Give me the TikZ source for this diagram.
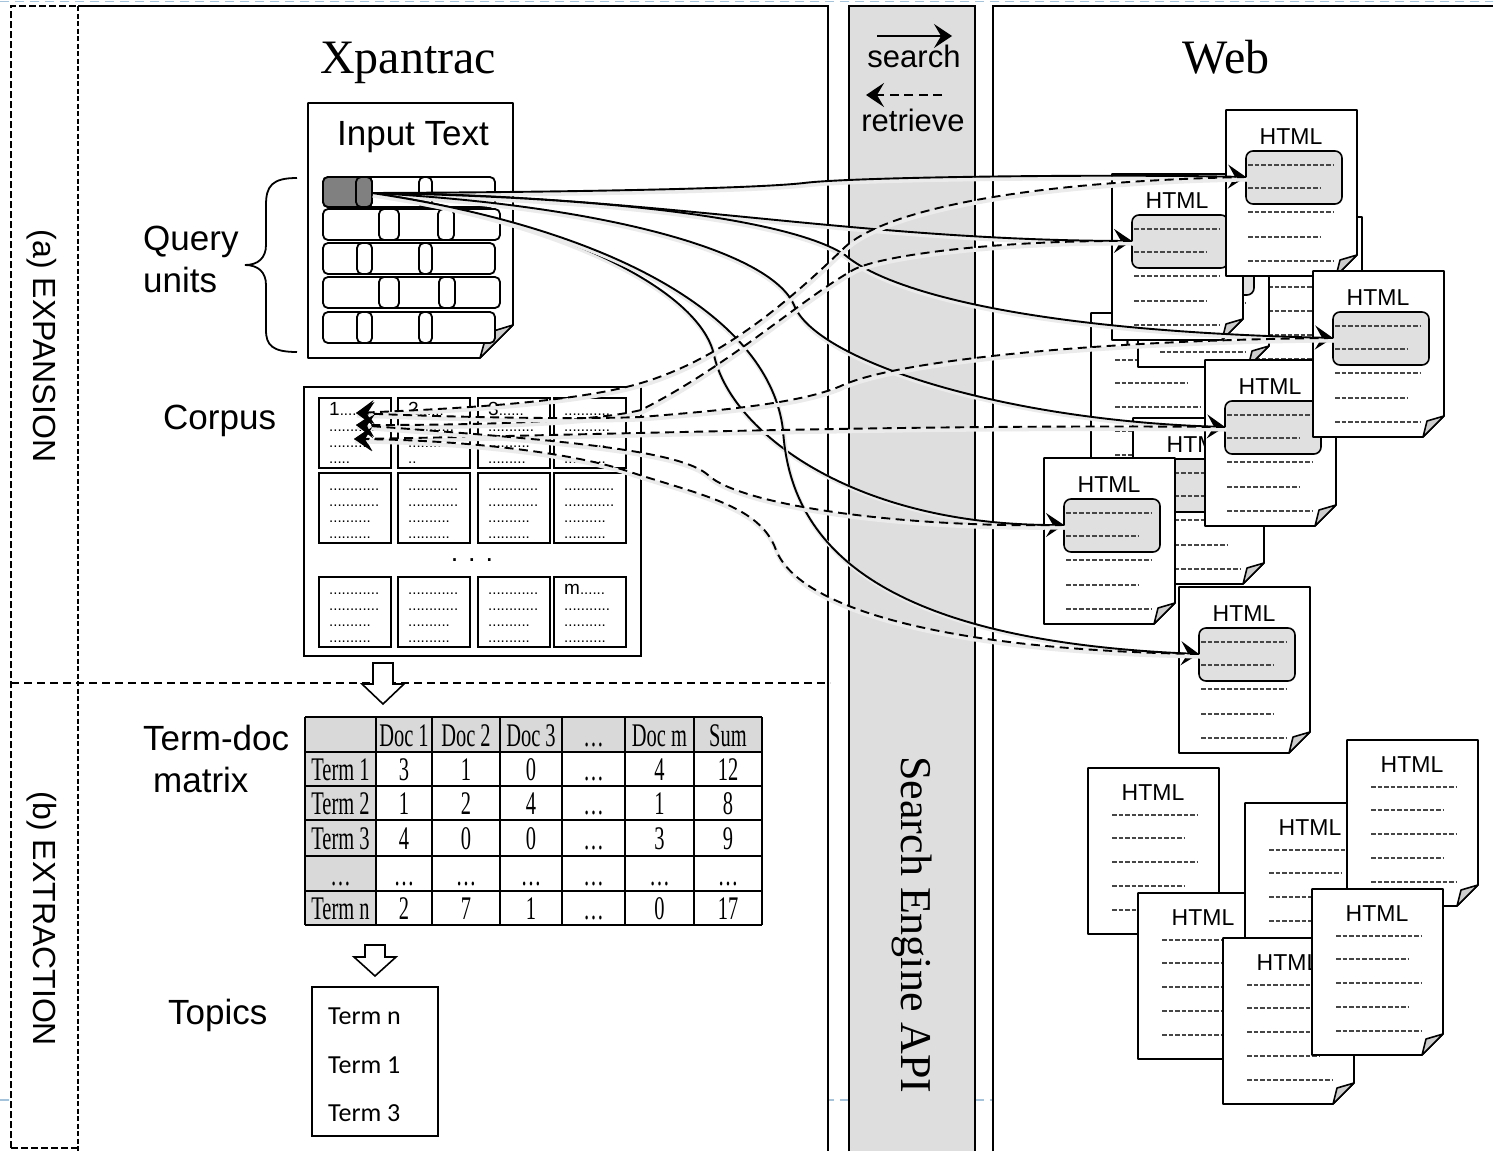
\documentclass[tikz,border=0pt]{standalone}
\usepackage{fontspec}
\usepackage{graphicx}
\setmainfont{Liberation Serif}
\setsansfont{Liberation Sans}
\newfontfamily\calfont{Carlito}
\usetikzlibrary{arrows.meta}

\definecolor{slideblue}{RGB}{165,195,218}
\definecolor{boxgrey}{RGB}{224,224,224}
\definecolor{bandgrey}{RGB}{222,222,222}
\definecolor{cellgrey}{RGB}{217,217,217}
\definecolor{unitgrey}{RGB}{128,128,128}
\definecolor{foldgrey}{RGB}{205,205,205}
\definecolor{dashgrey}{RGB}{70,70,70}

% horizontally condensed serif for the term-doc table
\newcommand\cellfmt[1]{\scalebox{0.62}[1]{#1}}

% page outline with a folded lower-right corner (131 x 166)
\newcommand\pageoutline{%
  \draw[docline, fill=white] (0,0) -- (131,0) -- (131,145) -- (110,166) -- (0,166) -- cycle;
  \draw[docline, fill=foldgrey] (131,145) -- (114,150) -- (110,166) -- cycle;
}

% one corpus document cell with four text lines
\newcommand\corpuscell[7]{%
  \draw[cellbox] (#2,#3) rectangle ++(72,70);
  \node[dottxt] (#1-a) at (#2+10,#3+17) {#4};
  \node[dottxt] (#1-b) at (#2+10,#3+33) {#5};
  \node[dottxt] (#1-c) at (#2+10,#3+49) {#6};
  \node[dottxt] (#1-d) at (#2+10,#3+65) {#7};
}

% one row of the term-doc matrix
\newcommand\tabrow[9]{%
  \node[tabtxt] (#1-1) at (340.5,#2) {\cellfmt{#3}};
  \node[tabtxt] (#1-2) at (404,#2) {\cellfmt{#4}};
  \node[tabtxt] (#1-3) at (466,#2) {\cellfmt{#5}};
  \node[tabtxt] (#1-4) at (531,#2) {\cellfmt{#6}};
  \node[tabtxt] (#1-5) at (593.5,#2) {\cellfmt{#7}};
  \node[tabtxt] (#1-6) at (659.5,#2) {\cellfmt{#8}};
  \node[tabtxt] (#1-7) at (728,#2) {\cellfmt{#9}};
}

\tikzset{
  panelline/.style={line width=1.8pt},
  slideguide/.style={line width=1.2pt, slideblue, dash pattern=on 9pt off 6pt},
  docline/.style={line width=1.6pt, line join=round},
  cellbox/.style={line width=2pt},
  unitline/.style={line width=1.8pt, rounded corners=5pt},
  txtdash/.style={line width=1.1pt, dashgrey, dash pattern=on 4.5pt off 2pt},
  tablegrid/.style={line width=2.2pt},
  barb/.style={-{Stealth[length=18pt,width=24pt,inset=7pt]}},
  softshadow/.style={preaction={draw=black!8, line width=4pt, -,
      transform canvas={shift={(1pt,-2.5pt)}}}},
  searchline/.style={line width=1.9pt, barb},
  retrieveline/.style={line width=1.9pt, dash pattern=on 9pt off 5.5pt, barb},
  blockarrow/.style={line width=1.6pt, fill=white, line join=miter},
  bigserif/.style={font=\fontsize{48}{48}\selectfont, inner sep=0pt, anchor=base},
  sanslabel/.style={font=\sffamily\fontsize{35}{40}\selectfont, inner sep=0pt, anchor=base west},
  htmltxt/.style={font=\sffamily\fontsize{23}{23}\selectfont, inner sep=0pt},
  dottxt/.style={font=\sffamily\fontsize{15}{15}\selectfont, inner sep=0pt, anchor=base west},
  tabtxt/.style={font=\fontsize{33}{33}\selectfont, inner sep=0pt, anchor=base},
  topictxt/.style={font=\calfont\fontsize{26}{26}\selectfont, inner sep=0pt, anchor=base west},
  sidelabel/.style={font=\sffamily\fontsize{32}{32}\selectfont, rotate=-90, inner sep=0pt},
  pics/boxpage/.style={code={
    \pageoutline
    \node[htmltxt] (-title) at (65,27) {HTML};
    \draw[docline, fill=boxgrey, rounded corners=7pt] (20,41) rectangle (116,94);
    \coordinate (-in) at (20,67);
    \foreach \yy/\len in {55/86,78/73,102/86,127/73,151/86}
      \draw[txtdash] (22,\yy) -- ++(\len,0);
  }},
  pics/plainpage/.style={code={
    \pageoutline
    \node[htmltxt] (-title) at (65,25) {HTML};
    \foreach \yy/\len in {47/85,70/73,94/85,118/73,142/85}
      \draw[txtdash] (24,\yy) -- ++(\len,0);
  }},
}

\begin{document}
\begin{tikzpicture}[x=1pt, y=-1pt]
\useasboundingbox (0,0) rectangle (1493,1151);

% slide guide lines
\draw[slideguide] (0,1.5) -- (1493,1.5);
\draw[slideguide] (0,1100) -- (1493,1100);

% panels
\fill[white] (11,6) rectangle (78,1151);
\fill[white] (78,6) rectangle (828,1151);
\fill[white] (993,6) rectangle (1493,1151);
\draw[panelline, dash pattern=on 7pt off 3pt] (11,1148) -- (11,6) -- (78,6);
\draw[panelline, dash pattern=on 5pt off 2.5pt] (78,6) -- (78,1151);
\draw[panelline, dash pattern=on 7pt off 3pt] (11,1148) -- (78,1148);
\draw[panelline, dash pattern=on 8pt off 5pt] (11,683) -- (830,683);
\draw[panelline] (78,6) -- (828,6) -- (828,1151);
\draw[panelline, fill=bandgrey] (849,1151) -- (849,6) -- (975,6) -- (975,1151);
\draw[panelline] (993,1151) -- (993,6) -- (1493,6);

% section labels
\node[sidelabel] (expansion) at (42,346) {(a) EXPANSION};
\node[sidelabel] (extraction) at (42,919) {(b) EXTRACTION};

% titles
\node[bigserif] (xpantrac) at (408,73) {Xpantrac};
\node[bigserif] (web) at (1226,73) {Web};
\node[font=\fontsize{44}{44}\selectfont, rotate=-90, inner sep=0pt] (api) at (912,925) {Search Engine API};

% legend in the search band
\coordinate (sa1) at (877,36);
\coordinate (sa2) at (952,36);
\draw[searchline] (sa1) -- (sa2);
\node[font=\sffamily\fontsize{31}{31}\selectfont, inner sep=0pt, anchor=base] (searchlbl) at (914,67) {search};
\coordinate (ra1) at (942,95);
\coordinate (ra2) at (866,95);
\draw[retrieveline] (ra1) -- (ra2);
\node[font=\sffamily\fontsize{31}{31}\selectfont, inner sep=0pt, anchor=base] (retrievelbl) at (913,131) {retrieve};

% input text document
\draw[docline, fill=white] (308,103) -- (513,103) -- (513,325) -- (480,358) -- (308,358) -- cycle;
\draw[docline, fill=foldgrey] (513,325) -- (487,333) -- (480,358) -- cycle;
\node[sanslabel, anchor=base] (inputtext) at (413,145) {Input Text};
\foreach \ya/\yb/\xe/\pa/\pb/\qa/\qb in {177/207/495/356/372/419/432, 209/240/500/379/399/438/454, 243/274/495/357/372/419/432, 277/308/500/379/399/439/455, 312/343/495/357/372/419/432} {
  \draw[unitline, fill=white] (323,\ya) rectangle (\xe,\yb);
  \draw[unitline, fill=white] (\pa,\ya) rectangle (\pb,\yb);
  \draw[unitline, fill=white] (\qa,\ya) rectangle (\qb,\yb);
}
\draw[unitline, fill=unitgrey] (323,177) rectangle (372,207);
\draw[unitline, fill=unitgrey] (356,177) rectangle (372,207);
\coordinate (src) at (372,193);

% brace and query-unit label
\draw[line width=1.8pt] (297,178) .. controls (272,178) and (266,186) .. (266,205) -- (266,245)
  .. controls (266,258) and (258,265) .. (245,265) .. controls (258,265) and (266,272) .. (266,285)
  -- (266,330) .. controls (266,345) and (272,352) .. (297,352);
\node[sanslabel] (query) at (143,250) {Query};
\node[sanslabel] (units) at (143,292) {units};

% corpus
\node[sanslabel] (corpuslbl) at (163,429) {Corpus};
\draw[cellbox, line width=1.8pt] (304,387) rectangle (641,656);
\corpuscell{c11}{319}{398}{{\fontsize{19}{19}\selectfont 1}.....}{...........}{..........}{.....}
\corpuscell{c12}{398}{398}{{\fontsize{19}{19}\selectfont 2}......}{...........}{..........}{..}
\corpuscell{c13}{478}{398}{{\fontsize{19}{19}\selectfont 3}......}{...........}{..........}{.........}
\corpuscell{c14}{554}{398}{...........}{...........}{..........}{..........}
\corpuscell{c21}{319}{473}{............}{............}{..........}{..........}
\corpuscell{c22}{398}{473}{............}{............}{..........}{..........}
\corpuscell{c23}{478}{473}{............}{............}{..........}{..........}
\corpuscell{c24}{554}{473}{............}{............}{..........}{..........}
\node[font=\sffamily\fontsize{27}{27}\selectfont, inner sep=0pt] (cdots) at (472,560) {. . .};
\corpuscell{c31}{319}{577}{............}{............}{..........}{..........}
\corpuscell{c32}{398}{577}{............}{............}{..........}{..........}
\corpuscell{c33}{478}{577}{............}{............}{..........}{..........}
\corpuscell{c34}{554}{577}{{\fontsize{19}{19}\selectfont m}......}{...........}{..........}{..........}
\coordinate (t1) at (356,413);
\coordinate (t2) at (356,425);
\coordinate (t3) at (354,439);

% down arrow to the matrix
\draw[blockarrow] (373,663) -- (393,663) -- (393,684) -- (404,684) -- (383,704) -- (362,684) -- (373,684) -- cycle;

% term-doc matrix
\node[sanslabel] (termdoc) at (143,750) {Term-doc};
\node[sanslabel] (matrixlbl) at (153,792) {matrix};
\fill[cellgrey] (305,717) rectangle (762,752);
\fill[cellgrey] (305,752) rectangle (376,925);
\foreach \x in {305,376,432,500,562,625,694,762} \draw[tablegrid] (\x,717) -- (\x,925);
\foreach \y in {717,752,786,820,856,891,925} \draw[tablegrid] (305,\y) -- (762,\y);
\tabrow{rh}{746}{}{Doc 1}{Doc 2}{Doc 3}{\ldots}{Doc m}{Sum}
\tabrow{r1}{780.5}{Term 1}{3}{1}{0}{\ldots}{4}{12}
\tabrow{r2}{814.5}{Term 2}{1}{2}{4}{\ldots}{1}{8}
\tabrow{r3}{849.5}{Term 3}{4}{0}{0}{\ldots}{3}{9}
\tabrow{r4}{885}{\ldots}{\ldots}{\ldots}{\ldots}{\ldots}{\ldots}{\ldots}
\tabrow{rn}{919.5}{Term n}{2}{7}{1}{\ldots}{0}{17}

% down arrow to the topics
\draw[blockarrow] (365,945) -- (385,945) -- (385,957) -- (396,957) -- (375,976) -- (354,957) -- (365,957) -- cycle;

% topics
\node[sanslabel] (topicslbl) at (168,1024) {Topics};
\draw[line width=1.8pt, fill=white] (312,987) rectangle (438,1136);
\node[topictxt] (tp1) at (328,1024) {Term n};
\node[topictxt] (tp2) at (328,1073) {Term 1};
\node[topictxt] (tp3) at (328,1121) {Term 3};

% web pages, back to front
\pic (Q) at (1231,217) {plainpage};
\pic (I) at (1091,313) {plainpage};
\pic (J) at (1138,201) {boxpage};
\pic (B) at (1112,174) {boxpage};
\pic (A) at (1226,110) {boxpage};
\pic (H) at (1133,418) {boxpage};
\pic (D) at (1205,360) {boxpage};
\pic (C) at (1313,271) {boxpage};
\pic (E) at (1044,458) {boxpage};
\pic (F) at (1179,587) {boxpage};

\pic (K) at (1088,768) {plainpage};
\pic (N) at (1138,893) {plainpage};
\pic (M) at (1245,803) {plainpage};
\pic (L) at (1347,740) {plainpage};
\pic (O) at (1223,938) {plainpage};
\pic (P) at (1312,889) {plainpage};

% search: query unit -> result snippets
\draw[searchline, softshadow] (src) .. controls (600,192) and (760,188) .. (804,183)
  .. controls (850,177) and (1100,174) .. (A-in);
\draw[searchline, softshadow] (src) .. controls (650,195) and (850,240) .. (B-in);
\draw[searchline, softshadow] (src) .. controls (650,198) and (800,225) .. (845,255)
  .. controls (880,285) and (1000,330) .. (C-in);
\draw[searchline, softshadow] (src) .. controls (600,205) and (770,250) .. (794,305)
  .. controls (815,360) and (1000,420) .. (D-in);
\draw[searchline, softshadow] (src) .. controls (560,220) and (700,290) .. (714,355)
  .. controls (730,430) and (850,525) .. (E-in);
\draw[searchline, softshadow] (src) .. controls (620,230) and (770,320) .. (783,430)
  .. controls (790,540) and (870,640) .. (F-in);

% retrieve: snippets -> corpus document
\draw[retrieveline, softshadow] (A-in) .. controls (1000,182) and (880,215) .. (845,247)
  .. controls (790,300) and (720,362) .. (634,385) .. controls (560,405) and (420,410) .. (t1);
\draw[retrieveline, softshadow] (B-in) .. controls (1000,240) and (880,255) .. (853,270)
  .. controls (800,300) and (730,365) .. (641,410) .. controls (580,425) and (420,425) .. (t2);
\draw[retrieveline, softshadow] (C-in) .. controls (1100,340) and (900,360) .. (843,385)
  .. controls (800,405) and (700,412) .. (641,417) .. controls (560,420) and (420,416) .. (t1);
\draw[retrieveline, softshadow] (D-in) .. controls (900,424) and (600,435) .. (t3);
\draw[retrieveline, softshadow] (E-in) .. controls (900,528) and (740,505) .. (708,475)
  .. controls (680,450) and (560,440) .. (t2);
\draw[retrieveline, softshadow] (F-in) .. controls (950,650) and (800,610) .. (776,550)
  .. controls (760,505) and (700,495) .. (624,470) .. controls (560,450) and (450,440) .. (t3);
\end{tikzpicture}
\end{document}
